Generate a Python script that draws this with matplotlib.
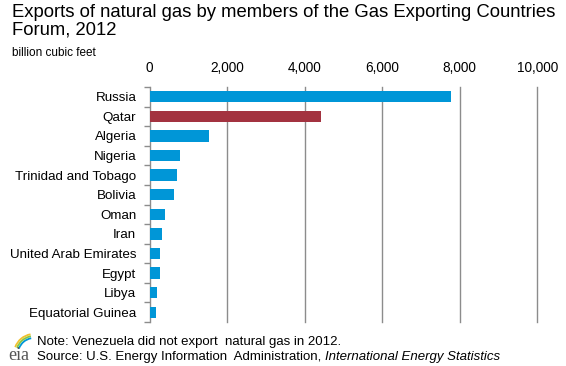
import matplotlib
matplotlib.use("Agg")
import matplotlib.pyplot as plt
from matplotlib.patches import Arc
import numpy as np

countries = ["Russia", "Qatar", "Algeria", "Nigeria", "Trinidad and Tobago",
             "Bolivia", "Oman", "Iran", "United Arab Emirates", "Egypt",
             "Libya", "Equatorial Guinea"]
exports = [7780, 4430, 1540, 790, 715, 635, 405, 325, 275, 270, 200, 170]
xticks = [0, 2000, 4000, 6000, 8000, 10000]
xtick_labels = ["0", "2,000", "4,000", "6,000", "8,000", "10,000"]

blue = "#0096d7"
maroon = "#a33340"
grid_gray = "#8c8c8c"

plt.rcParams["font.family"] = ["Liberation Sans", "DejaVu Sans"]

fig = plt.figure(figsize=(5.66, 3.66), dpi=100)
ax = fig.add_axes([149.5 / 566, 1 - 322 / 366, (537.3 - 149.5) / 566, (322 - 87) / 366])

y = np.arange(len(countries))
colors = [maroon if c == "Qatar" else blue for c in countries]
ax.barh(y, exports, height=0.58, color=colors, zorder=3)

ax.set_xlim(0, 10000)
ax.set_ylim(len(countries) - 0.5, -0.5)
ax.set_xticks(xticks)
ax.set_xticklabels(xtick_labels, fontsize=9.8)
ax.xaxis.tick_top()
ax.tick_params(axis="x", length=0, pad=9)
ax.set_yticks(y)
ax.set_yticklabels(countries, fontsize=9.6)
ax.tick_params(axis="y", which="major", length=0, pad=9.5)
ax.set_yticks(np.arange(-0.5, len(countries), 1), minor=True)
ax.tick_params(axis="y", which="minor", length=4, color=grid_gray, width=1)

for xv in xticks[1:]:
    ax.axvline(xv, color=grid_gray, lw=1, zorder=1, clip_on=False)

for s in ["top", "right", "bottom"]:
    ax.spines[s].set_visible(False)
ax.spines["left"].set_color(grid_gray)
ax.spines["left"].set_linewidth(1)

fig.text(12 / 566, 1 - 4 / 366,
         "Exports of natural gas by members of the Gas Exporting Countries\nForum, 2012",
         fontsize=13.3, va="top", ha="left", linespacing=1.02)
fig.text(12 / 566, 1 - 53 / 366, "billion cubic feet", fontsize=8.5, va="center", ha="left")

fig.text(37 / 566, 1 - 342 / 366, "Note: Venezuela did not export  natural gas in 2012.",
         fontsize=9.5, va="center", ha="left")
src = fig.text(37 / 566, 1 - 357 / 366, "Source: U.S. Energy Information  Administration, ",
               fontsize=9.5, va="center", ha="left")
fig.canvas.draw()
bb = src.get_window_extent()
fig.text(bb.x1 / 566, 1 - 357 / 366, "International Energy Statistics",
         fontsize=9.5, va="center", ha="left", style="italic")

# eia logo
fig.text(19 / 566, 1 - 355 / 366, "eia", fontsize=13, family="Liberation Serif",
         color="#555555", va="center", ha="center")
lax = fig.add_axes([4 / 566, 1 - 348 / 366, 30 / 566, 18 / 366])
lax.set_xlim(0, 30)
lax.set_ylim(0, 18)
lax.axis("off")
for r, c in [(20, "#f2c12e"), (18, "#8cc63f"), (16, "#0096d7")]:
    lax.add_patch(Arc((30, -6), 2 * r, 2 * r, theta1=100, theta2=160, color=c, lw=1.3,
                      clip_on=False))

fig.savefig("out.png", dpi=100)
